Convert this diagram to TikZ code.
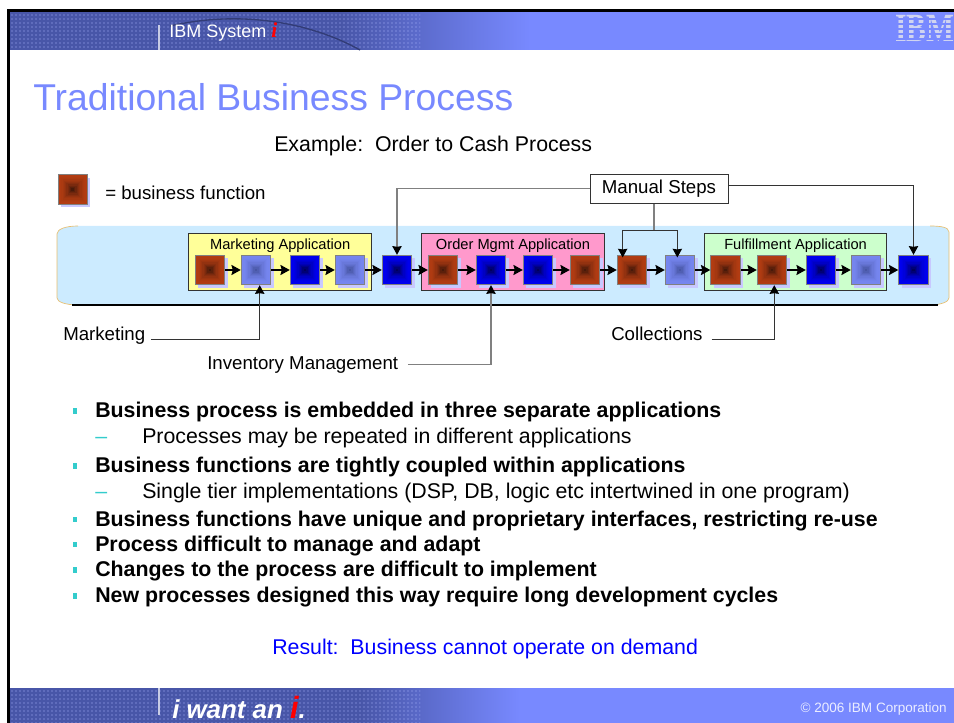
\documentclass[tikz,border=0pt]{standalone}
\usepackage{fontspec}
\setmainfont{Liberation Sans}
\newfontfamily\serifi{Liberation Serif}
\usetikzlibrary{shadows, arrows.meta, positioning, calc, patterns}

\definecolor{slideblue}{RGB}{120, 137, 255}
\definecolor{slidedark}{RGB}{72, 86, 168}
\definecolor{bandblue}{RGB}{204, 235, 255}
\definecolor{bandedge}{RGB}{232, 190, 110}
\definecolor{shadowblue}{RGB}{200, 200, 255}
\definecolor{brownout}{RGB}{178, 60, 18}
\definecolor{browncore}{RGB}{72, 26, 10}
\definecolor{lightout}{RGB}{118, 134, 240}
\definecolor{lightcore}{RGB}{72, 86, 165}
\definecolor{blueout}{RGB}{0, 0, 240}
\definecolor{bluecore}{RGB}{0, 0, 90}
\definecolor{teal1}{RGB}{51, 204, 204}
\definecolor{logogray}{RGB}{208, 212, 240}
\definecolor{mktfill}{RGB}{255, 255, 153}
\definecolor{ordfill}{RGB}{255, 153, 204}
\definecolor{fulfill}{RGB}{204, 255, 204}

\tikzset{
  fnbox/.style 2 args={draw=gray, line width=0.8pt, inner sep=0pt, minimum size=22pt,
    copy shadow={shadow xshift=2.2pt, shadow yshift=-2.2pt, fill=shadowblue, draw=none},
    path picture={
      \foreach \p in {0,1,...,11} {
        \pgfmathsetmacro{\w}{11.4*(1-\p/12)}
        \pgfmathtruncatemacro{\m}{100*(\p/11)*(\p/11)}
        \fill[#2!\m!#1] (path picture bounding box.center) +(-\w pt,-\w pt) rectangle +(\w pt,\w pt);
      }
    }},
  brownfn/.style={fnbox={brownout}{browncore}},
  lightfn/.style={fnbox={lightout}{lightcore}},
  bluefn/.style={fnbox={blueout}{bluecore}},
  appbox/.style={draw=black!80, line width=0.7pt, minimum height=42.8pt, inner sep=0pt},
  apptitle/.style={font=\fontsize{11}{13}\selectfont, inner sep=0pt},
  flow/.style={line width=1.9pt, -{Stealth[length=7pt, width=7.5pt, inset=1pt]}},
  callout/.style={draw=black!80, line width=0.75pt, -{Stealth[length=6.5pt, width=7pt, inset=0.5pt, color=black]}},
  grayout/.style={callout, draw=gray, line width=1pt},
  calltext/.style={font=\fontsize{14}{17}\selectfont, anchor=base west, inner sep=0pt},
  bodytext/.style={font=\fontsize{16}{19}\selectfont, anchor=base west, inner sep=0pt},
  boldtext/.style={bodytext, font=\fontsize{16}{19}\selectfont\bfseries},
}

\begin{document}
\begin{tikzpicture}[x=0.75pt, y=-0.75pt]
  \useasboundingbox (0,0) rectangle (954,723);

  % Header and footer bars
  \fill[slideblue] (10,12) rectangle (954,50);
  \fill[slideblue] (10,688) rectangle (954,723);
  \shade[left color=slidedark, right color=slideblue] (340,12) rectangle (530,50);
  \shade[left color=slidedark, right color=slideblue] (360,688) rectangle (520,723);
  \fill[slidedark] (10,12) rectangle (340,50);
  \fill[slidedark] (10,688) rectangle (360,723);
  \fill[pattern=dots, pattern color=slideblue!60] (10,12) rectangle (420,50);
  \fill[pattern=dots, pattern color=slideblue!60] (10,688) rectangle (420,723);
  \draw[slidedark!70!black, line width=1pt] (170,26) .. controls (240,10) and (310,22) .. (360,50);
  \fill[black] (7,9) rectangle (954,12);
  \fill[black] (7,9) rectangle (10,723);
  \draw[white!70!slidedark, line width=0.9pt] (159,25) -- (159,50);
  \draw[white!70!slidedark, line width=0.9pt] (159,688) -- (159,715);

  % Header texts
  \node[anchor=base west, inner sep=0pt, text=white, font=\fontsize{13.5}{15}\selectfont] (system) at (169,38)
    {IBM System {\serifi\fontsize{16}{16}\selectfont\bfseries\itshape\textcolor{red}{i}}};
  \node[text=logogray, inner sep=0pt, font=\serifi\fontsize{30}{30}\selectfont\bfseries, xscale=0.74, transform shape, anchor=base west] (logo) at (895,41.5) {IBM};
  \foreach \y in {19,24,...,39} {
    \draw[slideblue, line width=0.8pt] (893,\y) -- (954,\y);
  }

  % Titles
  \node[anchor=base west, inner sep=0pt, text=slideblue, font=\fontsize{28}{33}\selectfont] (title) at (33,111) {Traditional Business Process};
  \node[bodytext] (example) at (274,151.5) {Example:\ \ Order to Cash Process};

  % Legend
  \node[brownfn] (legend) at (72.7,189.5) {};
  \node[calltext] (legendtext) at (105,200) {= business function};

  % Process band
  \fill[bandblue] (57,234) .. controls (57,229) and (66,226) .. (78,226) -- (930,226) .. controls (940,226) and (949,227) .. (949,232)
    -- (949,298) .. controls (949,302) and (940,305) .. (930,305) -- (78,305) .. controls (66,305) and (57,302) .. (57,298) -- cycle;
  \draw[bandedge, line width=0.5pt] (78,226) .. controls (66,226) and (57,229) .. (57,234) -- (57,298) .. controls (57,302) and (66,305) .. (78,305);
  \draw[bandedge, line width=0.5pt] (930,226) .. controls (940,226) and (949,227) .. (949,232) -- (949,298) .. controls (949,302) and (940,305) .. (930,305);
  \draw[black, line width=1.5pt] (72,305.5) -- (938,305.5);

  % Application boxes
  \node[appbox, fill=mktfill, minimum width=137.2pt] (mktapp) at (280.2,262.2) {};
  \node[appbox, fill=ordfill, minimum width=137.6pt] (ordapp) at (513,262.2) {};
  \node[appbox, fill=fulfill, minimum width=136pt] (fulapp) at (795.6,262.2) {};
  \node[apptitle] (mkttitle) at ([yshift=-9.5pt]mktapp.north) {Marketing Application};
  \node[apptitle] (ordtitle) at ([yshift=-9.3pt]ordapp.north) {Order Mgmt Application};
  \node[apptitle] (fultitle) at ([yshift=-9.5pt]fulapp.north) {Fulfillment Application};

  % Business functions
  \foreach \n/\x/\kind in {1/210/brownfn, 2/256/lightfn, 3/305/bluefn, 4/350/lightfn, 5/397/bluefn, 6/443/brownfn,
      7/491/bluefn, 8/538/bluefn, 9/585/brownfn, 10/632/brownfn, 11/680/lightfn, 12/725.5/brownfn,
      13/772/brownfn, 14/821/bluefn, 15/866/lightfn, 16/913.5/bluefn} {
    \node[\kind] (fn\n) at (\x,270) {};
  }
  \foreach \a/\b in {1/2, 2/3, 3/4, 4/5, 5/6, 6/7, 7/8, 8/9, 9/10, 10/11, 11/12, 12/13, 13/14, 14/15, 15/16} {
    \draw[flow] (fn\a.east) -- (fn\b.west);
  }

  % Manual steps
  \node[draw=black!80, fill=white, line width=0.7pt, minimum width=103.5pt, minimum height=21.8pt, inner sep=0pt, font=\fontsize{14}{17}\selectfont] (manual) at (659,188.8) {Manual Steps};
  \coordinate (manualjoin) at (654,230.3);
  \draw[grayout] (manual.west) -| (fn5.north);
  \draw[callout] ([yshift=2.6pt]manual.east) -| (fn16.north);
  \draw[draw=gray, line width=1.5pt] ([xshift=-3.75pt]manual.south) -- (manualjoin);
  \draw[callout] (manualjoin) -| ([xshift=-7pt, yshift=-2pt]fn10.north);
  \draw[callout] (manualjoin) -| ([xshift=-2pt, yshift=-2pt]fn11.north);

  % Callouts
  \node[calltext] (marketing) at (63,340.7) {Marketing};
  \node[calltext] (inventory) at (207,370) {Inventory Management};
  \node[calltext] (collections) at (611,340.7) {Collections};
  \draw[callout] ([xshift=4pt, yshift=-2.5pt]marketing.east) -| ([xshift=2.8pt]fn2.south);
  \draw[grayout] ([xshift=7pt, yshift=1pt]inventory.east) -| (fn7.south);
  \draw[callout] ([xshift=6.5pt, yshift=-3.75pt]collections.east) -| ([xshift=1.7pt]fn13.south);

  % Bullets
  \foreach \n/\y/\txt in {1/418/Business process is embedded in three separate applications,
      2/473/Business functions are tightly coupled within applications,
      3/526.5/{Business functions have unique and proprietary interfaces, restricting re-use},
      4/551.5/Process difficult to manage and adapt,
      5/577/Changes to the process are difficult to implement,
      6/603/New processes designed this way require long development cycles} {
    \node[boldtext] (bold\n) at (95,\y) {\txt};
    \node[fill=teal1, minimum width=3.4pt, minimum height=4pt, inner sep=0pt] (mark\n) at (75,\y-7) {};
  }
  \node[bodytext] (subone) at (142,444) {Processes may be repeated in different applications};
  \node[bodytext] (subtwo) at (142,499) {Single tier implementations (DSP, DB, logic etc intertwined in one program)};
  \node[bodytext, text=teal1] (dashone) at (95,444) {–};
  \node[bodytext, text=teal1] (dashtwo) at (95,499) {–};

  % Result and footer
  \node[bodytext, text=blue] (result) at (272,654) {Result:\ \ Business cannot operate on demand};
  \node[anchor=base west, inner sep=0pt, text=white, font=\fontsize{19.4}{22}\selectfont\bfseries\itshape] (iwant) at (172,718.5) {i want an {\fontsize{23}{22}\selectfont\textcolor{red}{i}}.};
  \node[anchor=base east, inner sep=0pt, text=white!85!slideblue, font=\fontsize{10.15}{12}\selectfont] (copyright) at (947,712) {© 2006 IBM Corporation};
\end{tikzpicture}
\end{document}
